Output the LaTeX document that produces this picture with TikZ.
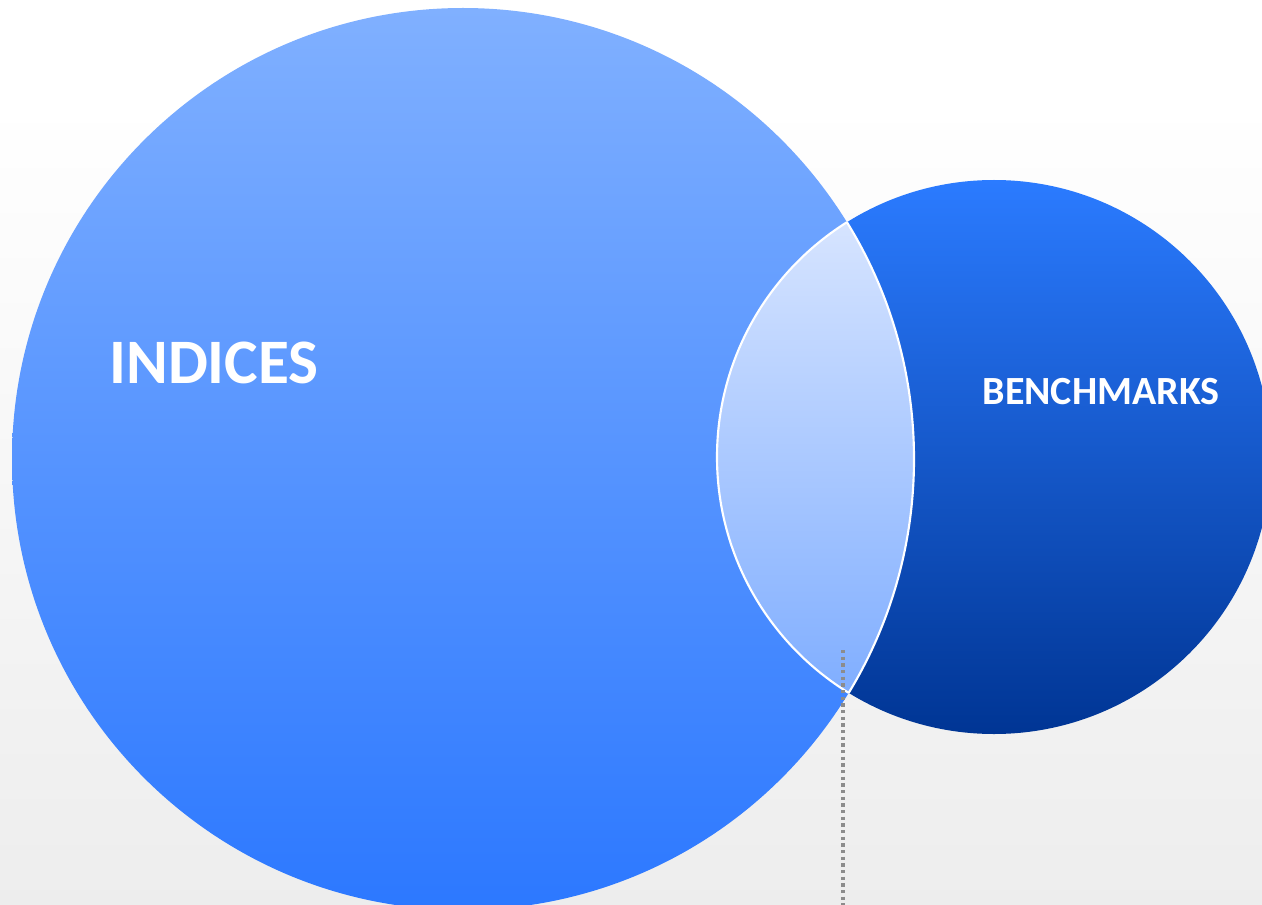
\documentclass[tikz,border=0pt]{standalone}
\usepackage{fontspec}
\setmainfont{Carlito}
\begin{document}
\begin{tikzpicture}[x=0.75pt,y=-0.75pt,
  lbl/.style={text=white,font=\bfseries,inner sep=0pt},
  edge/.style={draw=white,line width=1.6pt}]
\useasboundingbox (0,0) rectangle (1262,905);
\definecolor{bigtop}{HTML}{80B0FF}
\definecolor{bigbot}{HTML}{2C78FF}
\definecolor{smtop}{HTML}{2B7BFF}
\definecolor{smbot}{HTML}{003594}
\definecolor{lenstop}{HTML}{D6E4FF}
\definecolor{lensbot}{HTML}{80AEFF}
% background
\fill[white] (0,0) rectangle (1262,100);
\shade[top color=white,bottom color=black!7] (0,100) rectangle (1262,905);
% centres
\coordinate (cb) at (463,459);
\coordinate (cs) at (994,457);
% circles
\shade[top color=bigtop,bottom color=bigbot] (cb) circle[radius=451];
\shade[top color=smtop,bottom color=smbot] (cs) circle[radius=277];
% lens
\begin{scope}
  \clip (cb) circle[radius=451];
  \clip (cs) circle[radius=277];
  \shade[top color=lenstop,bottom color=lensbot] (700,222) rectangle (930,692);
\end{scope}
\begin{scope}
  \clip (cb) circle[radius=451];
  \draw[edge] (cs) circle[radius=277];
\end{scope}
\begin{scope}
  \clip (cs) circle[radius=277];
  \draw[edge] (cb) circle[radius=451];
\end{scope}
% dotted line
\coordinate (d1) at (843,650);
\coordinate (d2) at (843,905);
\draw[color=black!45,line width=2.6pt,dash pattern=on 2.6pt off 2.4pt] (d1) -- (d2);
% labels
\node[lbl,font=\bfseries\fontsize{47.5}{52}\selectfont] (ind) at (214,363) {INDICES};
\node[lbl,font=\bfseries\fontsize{30}{34}\selectfont] (ben) at (1101,392) {BENCHMARKS};
\end{tikzpicture}
\end{document}
